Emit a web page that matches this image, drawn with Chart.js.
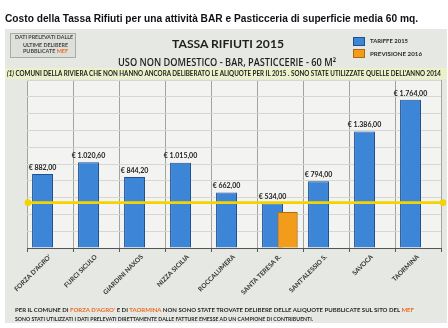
<!DOCTYPE html>
<html>
<head>
<meta charset="utf-8">
<script src="https://cdn.jsdelivr.net/npm/chart.js@4.4.1/dist/chart.umd.min.js"></script>
<style>
  html, body { margin: 0; padding: 0; background: #fff; }
  body { width: 448px; height: 328px; position: relative; overflow: hidden; font-family: Lato, "Open Sans", sans-serif; }
  #panel { position: absolute; left: 5px; top: 29px; width: 442px; height: 294px; background: #e6e9e3; }
  #band { position: absolute; left: 5px; top: 68px; width: 442px; height: 11px; background: #edf1c9; }
  #box { position: absolute; left: 10px; top: 33px; width: 64px; height: 23px; background: #dde0da; border: 1px solid #a9aca6; }
  .t { position: absolute; white-space: nowrap; line-height: 1; transform-origin: 0 50%; color: #2a2a2a; }
  .sq { position: absolute; width: 10px; height: 7px; }
  .or { color: #ee6a22; }
  canvas { position: absolute; left: 0; top: 0; }
</style>
</head>
<body>
<div id="panel"></div>
<div id="band"></div>
<div id="box"></div>
<canvas id="chart" width="448" height="328"></canvas>

<div class="t" id="pageTitle" style="left:5px;top:12px;font:bold 11px 'Liberation Sans', Arial, sans-serif;color:#111;">Costo della Tassa Rifiuti per una attività BAR e Pasticceria di superficie media 60 mq.</div>

<div class="t" id="box1" style="left:15px;top:34.5px;font-size:5.5px;font-weight:bold;color:#444;">DATI PRELEVATI DALLE</div>
<div class="t" id="box2" style="left:23px;top:42.7px;font-size:5.5px;font-weight:bold;color:#444;">ULTIME DELIBERE</div>
<div class="t" id="box3" style="left:23px;top:49.3px;font-size:5.5px;font-weight:bold;color:#444;">PUBBLICATE <span class="or">MEF</span></div>

<div class="t" id="mainTitle" style="left:172px;top:38px;font-size:12px;font-weight:bold;color:#1e1e1e;">TASSA RIFIUTI 2015</div>
<div class="t" id="subTitle" style="left:118px;top:55px;font:600 10px 'Open Sans', Lato, sans-serif;color:#1e1e1e;">USO NON DOMESTICO - BAR, PASTICCERIE - 60 M²</div>

<div class="sq" style="left:353px;top:37px;background:#3d86d7;border:1px solid #1f4f8f;"></div>
<div class="sq" style="left:353px;top:49px;background:#f39b1b;border:1px solid #b06a10;"></div>
<div class="t" id="leg1" style="left:370px;top:37.5px;font-size:6px;font-weight:bold;">TARIFFE 2015</div>
<div class="t" id="leg2" style="left:370px;top:51px;font-size:6px;font-weight:bold;">PREVISIONE 2016</div>

<div class="t" id="bandText" style="left:7px;top:71px;font-size:6.5px;font-weight:bold;color:#222;"><i>(1)</i> COMUNI DELLA RIVIERA CHE NON HANNO ANCORA DELIBERATO LE ALIQUOTE PER IL 2015 . SONO STATE UTILIZZATE QUELLE DELL'ANNO 2014</div>

<div class="t" id="foot1" style="left:15px;top:307px;font-size:6px;font-weight:bold;">PER IL COMUNE DI <span class="or">FORZA D'AGRO'</span> E DI <span class="or">TAORMINA</span> NON SONO STATE TROVATE DELIBERE DELLE ALIQUOTE PUBBLICATE SUL SITO DEL <span class="or">MEF</span></div>
<div class="t" id="foot2" style="left:15px;top:316px;font-size:6px;font-weight:bold;">SONO STATI UTILIZZATI I DATI PRELEVATI DIRETTAMENTE DALLE FATTURE EMESSE AD UN CAMPIONE DI CONTRIBUENTI.</div>

<script>
// comuni
const comuni = ["FORZA D'AGRO'", 'FURCI SICULO', 'GIARDINI NAXOS', 'NIZZA SICILIA', 'ROCCALUMERA',
  'SANTA TERESA R.', "SANT'ALESSIO S.", 'SAVOCA', 'TAORMINA'];
// tariffe 2015 (euro)
const tariffe2015 = [882.00, 1020.60, 844.20, 1015.00, 662.00, 534.00, 794.00, 1386.00, 1764.00];
// previsione 2016, solo Santa Teresa
const previsione2016 = [null, null, null, null, null, 430, null, null, null];
// linea gialla di riferimento
const rifLinea = 540;
const yTicks = { min: 0, max: 2000, step: 200 };

// stretch a text box to the width it has in the picture
function fit(id, w) {
  const el = document.getElementById(id);
  const r = el.getBoundingClientRect().width;
  el.style.transform = 'scaleX(' + (w / r) + ')';
}
fit('pageTitle', 413);
fit('mainTitle', 112);
fit('subTitle', 218);
fit('bandText', 434);
fit('foot1', 399);
fit('foot2', 298);
fit('box1', 58);
fit('box2', 45);
fit('box3', 45);
fit('leg1', 38);
fit('leg2', 52);

function euro(v) {
  const [int, dec] = v.toFixed(2).split('.');
  return '€ ' + int.replace(/\B(?=(\d{3})+(?!\d))/g, '.') + ',' + dec;
}

const plotBg = {
  id: 'plotBg',
  beforeDraw(chart) {
    const { ctx, chartArea: a } = chart;
    ctx.save();
    ctx.fillStyle = '#f3f4f1';
    ctx.fillRect(a.left, a.top, a.right - a.left, a.bottom - a.top);
    ctx.restore();
  },
};

const overlay = {
  id: 'overlay',
  afterDatasetsDraw(chart) {
    const { ctx, chartArea: a } = chart;
    // orange bar sits over the blue one, as in the original
    chart.getDatasetMeta(1).data.forEach(el => el.draw(ctx));

    // yellow reference line across the whole plot, dots at both ends
    const y = chart.scales.y.getPixelForValue(rifLinea);
    const x0 = a.left + 1, x1 = a.right + 2;
    ctx.save();
    ctx.strokeStyle = '#f4d300';
    ctx.fillStyle = '#f4d300';
    ctx.lineWidth = 2.8;
    ctx.beginPath();
    ctx.moveTo(x0, y);
    ctx.lineTo(x1, y);
    ctx.stroke();
    [x0, x1].forEach(x => {
      ctx.beginPath();
      ctx.arc(x, y, 3.3, 0, Math.PI * 2);
      ctx.fill();
    });

    ctx.font = 'bold 7px Lato, sans-serif';
    ctx.fillStyle = '#222';
    ctx.textAlign = 'center';
    ctx.textBaseline = 'bottom';
    chart.getDatasetMeta(0).data.forEach((el, i) => {
      ctx.fillText(euro(tariffe2015[i]), el.x, el.y - 3);
    });
    ctx.restore();
  },
};

new Chart(document.getElementById('chart'), {
  type: 'bar',
  data: {
    labels: comuni,
    datasets: [
      {
        label: 'TARIFFE 2015',
        data: tariffe2015,
        backgroundColor: '#3d86d7',
        borderColor: '#1f4f8f',
        borderWidth: 1,
        categoryPercentage: 0.65,
        barPercentage: 1.4,
      },
      {
        label: 'PREVISIONE 2016',
        data: previsione2016,
        backgroundColor: '#f39b1b',
        borderColor: '#b06a10',
        borderWidth: 1,
        categoryPercentage: 0.65,
        barPercentage: 1.35,
      },
    ],
  },
  options: {
    responsive: false,
    animation: false,
    events: [],
    layout: { padding: { left: 27, right: 7, top: 80, bottom: 0 } },
    plugins: { legend: { display: false }, tooltip: { enabled: false } },
    scales: {
      x: {
        afterFit: s => { s.height = 80; },
        border: { color: '#555', width: 1 },
        grid: { color: '#a3a5a1', tickColor: '#555', tickLength: 4, offset: true },
        ticks: {
          autoSkip: false, minRotation: 45, maxRotation: 45, padding: 1,
          color: '#333', font: { family: 'Lato, sans-serif', size: 6.5, weight: 'bold' },
        },
      },
      y: {
        min: yTicks.min, max: yTicks.max,
        afterFit: s => { s.width = 0; },
        border: { display: false },
        grid: { color: '#d5d8d2', drawTicks: false },
        ticks: { display: false, stepSize: yTicks.step },
      },
    },
  },
  plugins: [plotBg, overlay],
});
</script>
</body>
</html>
